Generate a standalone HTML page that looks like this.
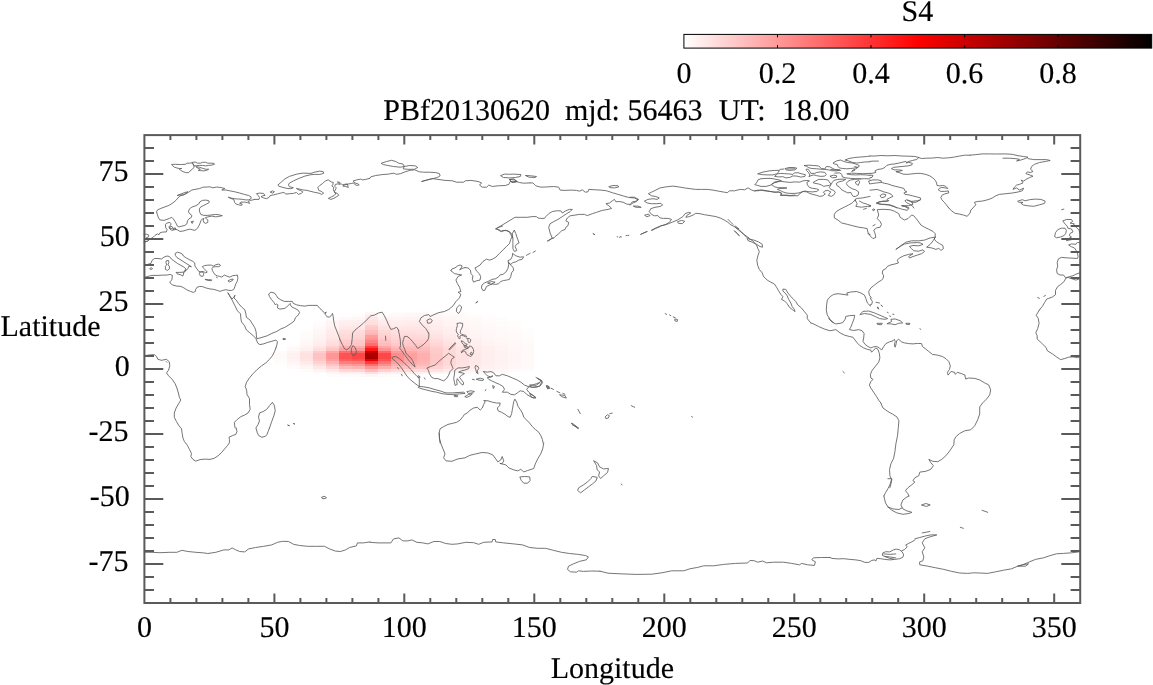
<!DOCTYPE html><html><head><meta charset="utf-8"><title>S4 map</title><style>
html,body{margin:0;padding:0;background:#fff;}body{width:1153px;height:685px;overflow:hidden;position:relative;font-family:"Liberation Serif",serif;}
svg{position:absolute;left:0;top:0;will-change:transform;}text{font-family:"Liberation Serif",serif;font-size:30px;fill:#000;stroke:#000;stroke-width:0.15px;text-rendering:geometricPrecision;}
</style></head><body>
<svg width="1153" height="685" viewBox="0 0 1153 685">
<defs><linearGradient id="cb" x1="0" y1="0" x2="1" y2="0"><stop offset="0" stop-color="#fff"/><stop offset="0.5" stop-color="#f00"/><stop offset="1" stop-color="#000"/></linearGradient></defs>
<g shape-rendering="crispEdges">
<rect x="365" y="374" width="13" height="3" fill="#fff5f5"/>
<rect x="365" y="372" width="13" height="2" fill="#ffe0e0"/>
<rect x="365" y="369" width="13" height="3" fill="#ffbebe"/>
<rect x="365" y="366" width="13" height="3" fill="#ff9696"/>
<rect x="365" y="364" width="13" height="2" fill="#ff6e6e"/>
<rect x="365" y="361" width="13" height="3" fill="#ff3d3d"/>
<rect x="365" y="359" width="13" height="2" fill="#eb0000"/>
<rect x="365" y="356" width="13" height="3" fill="#aa0000"/>
<rect x="365" y="353" width="13" height="3" fill="#aa0000"/>
<rect x="365" y="351" width="13" height="2" fill="#c70000"/>
<rect x="365" y="348" width="13" height="3" fill="#ff1414"/>
<rect x="365" y="346" width="13" height="2" fill="#ff3d3d"/>
<rect x="365" y="343" width="13" height="3" fill="#ff6e6e"/>
<rect x="365" y="340" width="13" height="3" fill="#ff8282"/>
<rect x="365" y="338" width="13" height="2" fill="#ff9494"/>
<rect x="365" y="335" width="13" height="3" fill="#ff9c9c"/>
<rect x="365" y="333" width="13" height="2" fill="#ffb5b5"/>
<rect x="365" y="330" width="13" height="3" fill="#ffbcbc"/>
<rect x="365" y="327" width="13" height="3" fill="#ffc9c9"/>
<rect x="365" y="325" width="13" height="2" fill="#ffcfcf"/>
<rect x="365" y="322" width="13" height="3" fill="#ffdede"/>
<rect x="365" y="320" width="13" height="2" fill="#ffe1e1"/>
<rect x="365" y="317" width="13" height="3" fill="#ffe6e6"/>
<rect x="365" y="314" width="13" height="3" fill="#fff0f0"/>
<rect x="365" y="312" width="13" height="2" fill="#fff7f7"/>
<rect x="274" y="361" width="13" height="3" fill="#fffcfc"/>
<rect x="274" y="359" width="13" height="2" fill="#fffbfb"/>
<rect x="274" y="356" width="13" height="3" fill="#fffafa"/>
<rect x="274" y="353" width="13" height="3" fill="#fffafa"/>
<rect x="274" y="351" width="13" height="2" fill="#fffbfb"/>
<rect x="287" y="366" width="13" height="3" fill="#fffbfb"/>
<rect x="287" y="364" width="13" height="2" fill="#fff8f8"/>
<rect x="287" y="361" width="13" height="3" fill="#fff5f5"/>
<rect x="287" y="359" width="13" height="2" fill="#fff2f2"/>
<rect x="287" y="356" width="13" height="3" fill="#fff1f1"/>
<rect x="287" y="353" width="13" height="3" fill="#fff1f1"/>
<rect x="287" y="351" width="13" height="2" fill="#fff4f4"/>
<rect x="287" y="348" width="13" height="3" fill="#fff8f8"/>
<rect x="287" y="346" width="13" height="2" fill="#fffafa"/>
<rect x="287" y="343" width="13" height="3" fill="#fffdfd"/>
<rect x="300" y="369" width="13" height="3" fill="#fffbfb"/>
<rect x="300" y="366" width="13" height="3" fill="#fff5f5"/>
<rect x="300" y="364" width="13" height="2" fill="#ffefef"/>
<rect x="300" y="361" width="13" height="3" fill="#ffeaea"/>
<rect x="300" y="359" width="13" height="2" fill="#ffe4e4"/>
<rect x="300" y="356" width="13" height="3" fill="#ffe1e1"/>
<rect x="300" y="353" width="13" height="3" fill="#ffe1e1"/>
<rect x="300" y="351" width="13" height="2" fill="#ffe6e6"/>
<rect x="300" y="348" width="13" height="3" fill="#fff0f0"/>
<rect x="300" y="346" width="13" height="2" fill="#fff3f3"/>
<rect x="300" y="343" width="13" height="3" fill="#fff7f7"/>
<rect x="300" y="340" width="13" height="3" fill="#fff8f8"/>
<rect x="300" y="338" width="13" height="2" fill="#fffafa"/>
<rect x="300" y="335" width="13" height="3" fill="#fffbfb"/>
<rect x="300" y="333" width="13" height="2" fill="#fffbfb"/>
<rect x="300" y="330" width="13" height="3" fill="#fffcfc"/>
<rect x="313" y="372" width="13" height="2" fill="#fffcfc"/>
<rect x="313" y="369" width="13" height="3" fill="#fff4f4"/>
<rect x="313" y="366" width="13" height="3" fill="#ffe8e8"/>
<rect x="313" y="364" width="13" height="2" fill="#ffdddd"/>
<rect x="313" y="361" width="13" height="3" fill="#ffd2d2"/>
<rect x="313" y="359" width="13" height="2" fill="#ffc7c7"/>
<rect x="313" y="356" width="13" height="3" fill="#ffc1c1"/>
<rect x="313" y="353" width="13" height="3" fill="#ffc1c1"/>
<rect x="313" y="351" width="13" height="2" fill="#ffcccc"/>
<rect x="313" y="348" width="13" height="3" fill="#ffdede"/>
<rect x="313" y="346" width="13" height="2" fill="#ffe5e5"/>
<rect x="313" y="343" width="13" height="3" fill="#ffeded"/>
<rect x="313" y="340" width="13" height="3" fill="#ffefef"/>
<rect x="313" y="338" width="13" height="2" fill="#fff2f2"/>
<rect x="313" y="335" width="13" height="3" fill="#fff4f4"/>
<rect x="313" y="333" width="13" height="2" fill="#fff5f5"/>
<rect x="313" y="330" width="13" height="3" fill="#fff6f6"/>
<rect x="313" y="327" width="13" height="3" fill="#fff9f9"/>
<rect x="313" y="325" width="13" height="2" fill="#fffbfb"/>
<rect x="313" y="322" width="13" height="3" fill="#fffcfc"/>
<rect x="313" y="320" width="13" height="2" fill="#fffdfd"/>
<rect x="326" y="374" width="13" height="3" fill="#fffbfb"/>
<rect x="326" y="372" width="13" height="2" fill="#fff5f5"/>
<rect x="326" y="369" width="13" height="3" fill="#ffe8e8"/>
<rect x="326" y="366" width="13" height="3" fill="#ffd4d4"/>
<rect x="326" y="364" width="13" height="2" fill="#ffc3c3"/>
<rect x="326" y="361" width="13" height="3" fill="#ffb2b2"/>
<rect x="326" y="359" width="13" height="2" fill="#ff9f9f"/>
<rect x="326" y="356" width="13" height="3" fill="#ff9696"/>
<rect x="326" y="353" width="13" height="3" fill="#ff9696"/>
<rect x="326" y="351" width="13" height="2" fill="#ffa7a7"/>
<rect x="326" y="348" width="13" height="3" fill="#ffc5c5"/>
<rect x="326" y="346" width="13" height="2" fill="#ffd0d0"/>
<rect x="326" y="343" width="13" height="3" fill="#ffdddd"/>
<rect x="326" y="340" width="13" height="3" fill="#ffe0e0"/>
<rect x="326" y="338" width="13" height="2" fill="#ffe5e5"/>
<rect x="326" y="335" width="13" height="3" fill="#ffe8e8"/>
<rect x="326" y="333" width="13" height="2" fill="#ffe9e9"/>
<rect x="326" y="330" width="13" height="3" fill="#ffebeb"/>
<rect x="326" y="327" width="13" height="3" fill="#fff0f0"/>
<rect x="326" y="325" width="13" height="2" fill="#fff3f3"/>
<rect x="326" y="322" width="13" height="3" fill="#fff4f4"/>
<rect x="326" y="320" width="13" height="2" fill="#fff6f6"/>
<rect x="326" y="317" width="13" height="3" fill="#fffbfb"/>
<rect x="339" y="374" width="13" height="3" fill="#fff9f9"/>
<rect x="339" y="372" width="13" height="2" fill="#ffefef"/>
<rect x="339" y="369" width="13" height="3" fill="#ffd8d8"/>
<rect x="339" y="366" width="13" height="3" fill="#ffb8b8"/>
<rect x="339" y="364" width="13" height="2" fill="#ff9c9c"/>
<rect x="339" y="361" width="13" height="3" fill="#ff7f7f"/>
<rect x="339" y="359" width="13" height="2" fill="#ff6060"/>
<rect x="339" y="356" width="13" height="3" fill="#ff5252"/>
<rect x="339" y="353" width="13" height="3" fill="#ff5252"/>
<rect x="339" y="351" width="13" height="2" fill="#ff6e6e"/>
<rect x="339" y="348" width="13" height="3" fill="#ff9f9f"/>
<rect x="339" y="346" width="13" height="2" fill="#ffb2b2"/>
<rect x="339" y="343" width="13" height="3" fill="#ffc8c8"/>
<rect x="339" y="340" width="13" height="3" fill="#ffcccc"/>
<rect x="339" y="338" width="13" height="2" fill="#ffd5d5"/>
<rect x="339" y="335" width="13" height="3" fill="#ffd8d8"/>
<rect x="339" y="333" width="13" height="2" fill="#ffdbdb"/>
<rect x="339" y="330" width="13" height="3" fill="#ffdede"/>
<rect x="339" y="327" width="13" height="3" fill="#ffe7e7"/>
<rect x="339" y="325" width="13" height="2" fill="#ffebeb"/>
<rect x="339" y="322" width="13" height="3" fill="#ffeeee"/>
<rect x="339" y="320" width="13" height="2" fill="#fff1f1"/>
<rect x="339" y="317" width="13" height="3" fill="#fff8f8"/>
<rect x="339" y="314" width="13" height="3" fill="#fffdfd"/>
<rect x="352" y="374" width="13" height="3" fill="#fff9f9"/>
<rect x="352" y="372" width="13" height="2" fill="#ffeeee"/>
<rect x="352" y="369" width="13" height="3" fill="#ffd6d6"/>
<rect x="352" y="366" width="13" height="3" fill="#ffb4b4"/>
<rect x="352" y="364" width="13" height="2" fill="#ff9696"/>
<rect x="352" y="361" width="13" height="3" fill="#ff7878"/>
<rect x="352" y="359" width="13" height="2" fill="#ff5757"/>
<rect x="352" y="356" width="13" height="3" fill="#ff4747"/>
<rect x="352" y="353" width="13" height="3" fill="#ff4747"/>
<rect x="352" y="351" width="13" height="2" fill="#ff6666"/>
<rect x="352" y="348" width="13" height="3" fill="#ff9999"/>
<rect x="352" y="346" width="13" height="2" fill="#ffadad"/>
<rect x="352" y="343" width="13" height="3" fill="#ffc4c4"/>
<rect x="352" y="340" width="13" height="3" fill="#ffc9c9"/>
<rect x="352" y="338" width="13" height="2" fill="#ffd2d2"/>
<rect x="352" y="335" width="13" height="3" fill="#ffd6d6"/>
<rect x="352" y="333" width="13" height="2" fill="#ffd9d9"/>
<rect x="352" y="330" width="13" height="3" fill="#ffdcdc"/>
<rect x="352" y="327" width="13" height="3" fill="#ffe6e6"/>
<rect x="352" y="325" width="13" height="2" fill="#ffeaea"/>
<rect x="352" y="322" width="13" height="3" fill="#ffeded"/>
<rect x="352" y="320" width="13" height="2" fill="#fff0f0"/>
<rect x="352" y="317" width="13" height="3" fill="#fff7f7"/>
<rect x="352" y="314" width="13" height="3" fill="#fffcfc"/>
<rect x="378" y="374" width="13" height="3" fill="#fff9f9"/>
<rect x="378" y="372" width="13" height="2" fill="#ffecec"/>
<rect x="378" y="369" width="13" height="3" fill="#ffd1d1"/>
<rect x="378" y="366" width="13" height="3" fill="#ffadad"/>
<rect x="378" y="364" width="13" height="2" fill="#ff8f8f"/>
<rect x="378" y="361" width="13" height="3" fill="#ff7373"/>
<rect x="378" y="359" width="13" height="2" fill="#ff5555"/>
<rect x="378" y="356" width="13" height="3" fill="#ff4747"/>
<rect x="378" y="353" width="13" height="3" fill="#ff4747"/>
<rect x="378" y="351" width="13" height="2" fill="#ff6363"/>
<rect x="378" y="348" width="13" height="3" fill="#ff9292"/>
<rect x="378" y="346" width="13" height="2" fill="#ffa6a6"/>
<rect x="378" y="343" width="13" height="3" fill="#ffbcbc"/>
<rect x="378" y="340" width="13" height="3" fill="#ffc2c2"/>
<rect x="378" y="338" width="13" height="2" fill="#ffcccc"/>
<rect x="378" y="335" width="13" height="3" fill="#ffd1d1"/>
<rect x="378" y="333" width="13" height="2" fill="#ffd4d4"/>
<rect x="378" y="330" width="13" height="3" fill="#ffd8d8"/>
<rect x="378" y="327" width="13" height="3" fill="#ffe1e1"/>
<rect x="378" y="325" width="13" height="2" fill="#ffe6e6"/>
<rect x="378" y="322" width="13" height="3" fill="#ffe9e9"/>
<rect x="378" y="320" width="13" height="2" fill="#ffeded"/>
<rect x="378" y="317" width="13" height="3" fill="#fff4f4"/>
<rect x="378" y="314" width="13" height="3" fill="#fffafa"/>
<rect x="391" y="374" width="13" height="3" fill="#fffbfb"/>
<rect x="391" y="372" width="13" height="2" fill="#fff0f0"/>
<rect x="391" y="369" width="13" height="3" fill="#ffdada"/>
<rect x="391" y="366" width="13" height="3" fill="#ffc0c0"/>
<rect x="391" y="364" width="13" height="2" fill="#ffaeae"/>
<rect x="391" y="361" width="13" height="3" fill="#ffa0a0"/>
<rect x="391" y="359" width="13" height="2" fill="#ff9292"/>
<rect x="391" y="356" width="13" height="3" fill="#ff8c8c"/>
<rect x="391" y="353" width="13" height="3" fill="#ff8c8c"/>
<rect x="391" y="351" width="13" height="2" fill="#ff9a9a"/>
<rect x="391" y="348" width="13" height="3" fill="#ffb1b1"/>
<rect x="391" y="346" width="13" height="2" fill="#ffbcbc"/>
<rect x="391" y="343" width="13" height="3" fill="#ffc9c9"/>
<rect x="391" y="340" width="13" height="3" fill="#ffcece"/>
<rect x="391" y="338" width="13" height="2" fill="#ffd5d5"/>
<rect x="391" y="335" width="13" height="3" fill="#ffd9d9"/>
<rect x="391" y="333" width="13" height="2" fill="#ffdddd"/>
<rect x="391" y="330" width="13" height="3" fill="#ffe0e0"/>
<rect x="391" y="327" width="13" height="3" fill="#ffe6e6"/>
<rect x="391" y="325" width="13" height="2" fill="#ffe9e9"/>
<rect x="391" y="322" width="13" height="3" fill="#ffecec"/>
<rect x="391" y="320" width="13" height="2" fill="#ffefef"/>
<rect x="391" y="317" width="13" height="3" fill="#fff4f4"/>
<rect x="391" y="314" width="13" height="3" fill="#fff8f8"/>
<rect x="391" y="312" width="13" height="2" fill="#fffcfc"/>
<rect x="404" y="374" width="13" height="3" fill="#fffcfc"/>
<rect x="404" y="372" width="13" height="2" fill="#fff0f0"/>
<rect x="404" y="369" width="13" height="3" fill="#ffdada"/>
<rect x="404" y="366" width="13" height="3" fill="#ffc2c2"/>
<rect x="404" y="364" width="13" height="2" fill="#ffb3b3"/>
<rect x="404" y="361" width="13" height="3" fill="#ffaaaa"/>
<rect x="404" y="359" width="13" height="2" fill="#ffa3a3"/>
<rect x="404" y="356" width="13" height="3" fill="#ffa0a0"/>
<rect x="404" y="353" width="13" height="3" fill="#ffa0a0"/>
<rect x="404" y="351" width="13" height="2" fill="#ffa8a8"/>
<rect x="404" y="348" width="13" height="3" fill="#ffb6b6"/>
<rect x="404" y="346" width="13" height="2" fill="#ffbebe"/>
<rect x="404" y="343" width="13" height="3" fill="#ffc8c8"/>
<rect x="404" y="340" width="13" height="3" fill="#ffcdcd"/>
<rect x="404" y="338" width="13" height="2" fill="#ffd4d4"/>
<rect x="404" y="335" width="13" height="3" fill="#ffd8d8"/>
<rect x="404" y="333" width="13" height="2" fill="#ffdcdc"/>
<rect x="404" y="330" width="13" height="3" fill="#ffe0e0"/>
<rect x="404" y="327" width="13" height="3" fill="#ffe5e5"/>
<rect x="404" y="325" width="13" height="2" fill="#ffe8e8"/>
<rect x="404" y="322" width="13" height="3" fill="#ffebeb"/>
<rect x="404" y="320" width="13" height="2" fill="#ffeeee"/>
<rect x="404" y="317" width="13" height="3" fill="#fff2f2"/>
<rect x="404" y="314" width="13" height="3" fill="#fff7f7"/>
<rect x="404" y="312" width="13" height="2" fill="#fffafa"/>
<rect x="417" y="374" width="13" height="3" fill="#fffdfd"/>
<rect x="417" y="372" width="13" height="2" fill="#fff1f1"/>
<rect x="417" y="369" width="13" height="3" fill="#ffdbdb"/>
<rect x="417" y="366" width="13" height="3" fill="#ffc5c5"/>
<rect x="417" y="364" width="13" height="2" fill="#ffb9b9"/>
<rect x="417" y="361" width="13" height="3" fill="#ffb3b3"/>
<rect x="417" y="359" width="13" height="2" fill="#ffb0b0"/>
<rect x="417" y="356" width="13" height="3" fill="#ffafaf"/>
<rect x="417" y="353" width="13" height="3" fill="#ffafaf"/>
<rect x="417" y="351" width="13" height="2" fill="#ffb4b4"/>
<rect x="417" y="348" width="13" height="3" fill="#ffbbbb"/>
<rect x="417" y="346" width="13" height="2" fill="#ffc1c1"/>
<rect x="417" y="343" width="13" height="3" fill="#ffc9c9"/>
<rect x="417" y="340" width="13" height="3" fill="#ffcfcf"/>
<rect x="417" y="338" width="13" height="2" fill="#ffd5d5"/>
<rect x="417" y="335" width="13" height="3" fill="#ffd9d9"/>
<rect x="417" y="333" width="13" height="2" fill="#ffdede"/>
<rect x="417" y="330" width="13" height="3" fill="#ffe1e1"/>
<rect x="417" y="327" width="13" height="3" fill="#ffe5e5"/>
<rect x="417" y="325" width="13" height="2" fill="#ffe8e8"/>
<rect x="417" y="322" width="13" height="3" fill="#ffebeb"/>
<rect x="417" y="320" width="13" height="2" fill="#ffeeee"/>
<rect x="417" y="317" width="13" height="3" fill="#fff2f2"/>
<rect x="417" y="314" width="13" height="3" fill="#fff6f6"/>
<rect x="417" y="312" width="13" height="2" fill="#fffafa"/>
<rect x="430" y="372" width="13" height="2" fill="#fff4f4"/>
<rect x="430" y="369" width="13" height="3" fill="#ffe3e3"/>
<rect x="430" y="366" width="13" height="3" fill="#ffd3d3"/>
<rect x="430" y="364" width="13" height="2" fill="#ffcbcb"/>
<rect x="430" y="361" width="13" height="3" fill="#ffc8c8"/>
<rect x="430" y="359" width="13" height="2" fill="#ffc8c8"/>
<rect x="430" y="356" width="13" height="3" fill="#ffc8c8"/>
<rect x="430" y="353" width="13" height="3" fill="#ffc8c8"/>
<rect x="430" y="351" width="13" height="2" fill="#ffcaca"/>
<rect x="430" y="348" width="13" height="3" fill="#ffcccc"/>
<rect x="430" y="346" width="13" height="2" fill="#ffd0d0"/>
<rect x="430" y="343" width="13" height="3" fill="#ffd5d5"/>
<rect x="430" y="340" width="13" height="3" fill="#ffdada"/>
<rect x="430" y="338" width="13" height="2" fill="#ffdede"/>
<rect x="430" y="335" width="13" height="3" fill="#ffe2e2"/>
<rect x="430" y="333" width="13" height="2" fill="#ffe5e5"/>
<rect x="430" y="330" width="13" height="3" fill="#ffe8e8"/>
<rect x="430" y="327" width="13" height="3" fill="#ffebeb"/>
<rect x="430" y="325" width="13" height="2" fill="#ffeded"/>
<rect x="430" y="322" width="13" height="3" fill="#ffefef"/>
<rect x="430" y="320" width="13" height="2" fill="#fff1f1"/>
<rect x="430" y="317" width="13" height="3" fill="#fff4f4"/>
<rect x="430" y="314" width="13" height="3" fill="#fff7f7"/>
<rect x="430" y="312" width="13" height="2" fill="#fffbfb"/>
<rect x="443" y="372" width="13" height="2" fill="#fff7f7"/>
<rect x="443" y="369" width="13" height="3" fill="#ffebeb"/>
<rect x="443" y="366" width="13" height="3" fill="#ffdfdf"/>
<rect x="443" y="364" width="13" height="2" fill="#ffd9d9"/>
<rect x="443" y="361" width="13" height="3" fill="#ffd7d7"/>
<rect x="443" y="359" width="13" height="2" fill="#ffd7d7"/>
<rect x="443" y="356" width="13" height="3" fill="#ffd7d7"/>
<rect x="443" y="353" width="13" height="3" fill="#ffd7d7"/>
<rect x="443" y="351" width="13" height="2" fill="#ffd8d8"/>
<rect x="443" y="348" width="13" height="3" fill="#ffdada"/>
<rect x="443" y="346" width="13" height="2" fill="#ffdddd"/>
<rect x="443" y="343" width="13" height="3" fill="#ffe1e1"/>
<rect x="443" y="340" width="13" height="3" fill="#ffe4e4"/>
<rect x="443" y="338" width="13" height="2" fill="#ffe7e7"/>
<rect x="443" y="335" width="13" height="3" fill="#ffeaea"/>
<rect x="443" y="333" width="13" height="2" fill="#ffecec"/>
<rect x="443" y="330" width="13" height="3" fill="#ffeeee"/>
<rect x="443" y="327" width="13" height="3" fill="#fff0f0"/>
<rect x="443" y="325" width="13" height="2" fill="#fff2f2"/>
<rect x="443" y="322" width="13" height="3" fill="#fff3f3"/>
<rect x="443" y="320" width="13" height="2" fill="#fff5f5"/>
<rect x="443" y="317" width="13" height="3" fill="#fff7f7"/>
<rect x="443" y="314" width="13" height="3" fill="#fff9f9"/>
<rect x="443" y="312" width="13" height="2" fill="#fffcfc"/>
<rect x="456" y="372" width="13" height="2" fill="#fff9f9"/>
<rect x="456" y="369" width="13" height="3" fill="#fff0f0"/>
<rect x="456" y="366" width="13" height="3" fill="#ffe7e7"/>
<rect x="456" y="364" width="13" height="2" fill="#ffe2e2"/>
<rect x="456" y="361" width="13" height="3" fill="#ffe1e1"/>
<rect x="456" y="359" width="13" height="2" fill="#ffe1e1"/>
<rect x="456" y="356" width="13" height="3" fill="#ffe1e1"/>
<rect x="456" y="353" width="13" height="3" fill="#ffe1e1"/>
<rect x="456" y="351" width="13" height="2" fill="#ffe2e2"/>
<rect x="456" y="348" width="13" height="3" fill="#ffe3e3"/>
<rect x="456" y="346" width="13" height="2" fill="#ffe5e5"/>
<rect x="456" y="343" width="13" height="3" fill="#ffe8e8"/>
<rect x="456" y="340" width="13" height="3" fill="#ffebeb"/>
<rect x="456" y="338" width="13" height="2" fill="#ffeded"/>
<rect x="456" y="335" width="13" height="3" fill="#ffefef"/>
<rect x="456" y="333" width="13" height="2" fill="#fff1f1"/>
<rect x="456" y="330" width="13" height="3" fill="#fff2f2"/>
<rect x="456" y="327" width="13" height="3" fill="#fff4f4"/>
<rect x="456" y="325" width="13" height="2" fill="#fff5f5"/>
<rect x="456" y="322" width="13" height="3" fill="#fff6f6"/>
<rect x="456" y="320" width="13" height="2" fill="#fff7f7"/>
<rect x="456" y="317" width="13" height="3" fill="#fff9f9"/>
<rect x="456" y="314" width="13" height="3" fill="#fffbfb"/>
<rect x="456" y="312" width="13" height="2" fill="#fffdfd"/>
<rect x="469" y="372" width="13" height="2" fill="#fffafa"/>
<rect x="469" y="369" width="13" height="3" fill="#fff4f4"/>
<rect x="469" y="366" width="13" height="3" fill="#ffeded"/>
<rect x="469" y="364" width="13" height="2" fill="#ffe9e9"/>
<rect x="469" y="361" width="13" height="3" fill="#ffe8e8"/>
<rect x="469" y="359" width="13" height="2" fill="#ffe8e8"/>
<rect x="469" y="356" width="13" height="3" fill="#ffe8e8"/>
<rect x="469" y="353" width="13" height="3" fill="#ffe8e8"/>
<rect x="469" y="351" width="13" height="2" fill="#ffe9e9"/>
<rect x="469" y="348" width="13" height="3" fill="#ffeaea"/>
<rect x="469" y="346" width="13" height="2" fill="#ffebeb"/>
<rect x="469" y="343" width="13" height="3" fill="#ffeeee"/>
<rect x="469" y="340" width="13" height="3" fill="#ffefef"/>
<rect x="469" y="338" width="13" height="2" fill="#fff1f1"/>
<rect x="469" y="335" width="13" height="3" fill="#fff3f3"/>
<rect x="469" y="333" width="13" height="2" fill="#fff4f4"/>
<rect x="469" y="330" width="13" height="3" fill="#fff5f5"/>
<rect x="469" y="327" width="13" height="3" fill="#fff7f7"/>
<rect x="469" y="325" width="13" height="2" fill="#fff7f7"/>
<rect x="469" y="322" width="13" height="3" fill="#fff8f8"/>
<rect x="469" y="320" width="13" height="2" fill="#fff9f9"/>
<rect x="469" y="317" width="13" height="3" fill="#fffafa"/>
<rect x="469" y="314" width="13" height="3" fill="#fffcfc"/>
<rect x="482" y="372" width="13" height="2" fill="#fffcfc"/>
<rect x="482" y="369" width="13" height="3" fill="#fff6f6"/>
<rect x="482" y="366" width="13" height="3" fill="#fff1f1"/>
<rect x="482" y="364" width="13" height="2" fill="#ffefef"/>
<rect x="482" y="361" width="13" height="3" fill="#ffeeee"/>
<rect x="482" y="359" width="13" height="2" fill="#ffeeee"/>
<rect x="482" y="356" width="13" height="3" fill="#ffeeee"/>
<rect x="482" y="353" width="13" height="3" fill="#ffeeee"/>
<rect x="482" y="351" width="13" height="2" fill="#ffeeee"/>
<rect x="482" y="348" width="13" height="3" fill="#ffefef"/>
<rect x="482" y="346" width="13" height="2" fill="#fff0f0"/>
<rect x="482" y="343" width="13" height="3" fill="#fff2f2"/>
<rect x="482" y="340" width="13" height="3" fill="#fff3f3"/>
<rect x="482" y="338" width="13" height="2" fill="#fff5f5"/>
<rect x="482" y="335" width="13" height="3" fill="#fff6f6"/>
<rect x="482" y="333" width="13" height="2" fill="#fff7f7"/>
<rect x="482" y="330" width="13" height="3" fill="#fff8f8"/>
<rect x="482" y="327" width="13" height="3" fill="#fff9f9"/>
<rect x="482" y="325" width="13" height="2" fill="#fff9f9"/>
<rect x="482" y="322" width="13" height="3" fill="#fffafa"/>
<rect x="482" y="320" width="13" height="2" fill="#fffbfb"/>
<rect x="482" y="317" width="13" height="3" fill="#fffcfc"/>
<rect x="482" y="314" width="13" height="3" fill="#fffdfd"/>
<rect x="495" y="372" width="13" height="2" fill="#fffcfc"/>
<rect x="495" y="369" width="13" height="3" fill="#fff8f8"/>
<rect x="495" y="366" width="13" height="3" fill="#fff4f4"/>
<rect x="495" y="364" width="13" height="2" fill="#fff2f2"/>
<rect x="495" y="361" width="13" height="3" fill="#fff2f2"/>
<rect x="495" y="359" width="13" height="2" fill="#fff2f2"/>
<rect x="495" y="356" width="13" height="3" fill="#fff2f2"/>
<rect x="495" y="353" width="13" height="3" fill="#fff2f2"/>
<rect x="495" y="351" width="13" height="2" fill="#fff2f2"/>
<rect x="495" y="348" width="13" height="3" fill="#fff3f3"/>
<rect x="495" y="346" width="13" height="2" fill="#fff4f4"/>
<rect x="495" y="343" width="13" height="3" fill="#fff5f5"/>
<rect x="495" y="340" width="13" height="3" fill="#fff6f6"/>
<rect x="495" y="338" width="13" height="2" fill="#fff7f7"/>
<rect x="495" y="335" width="13" height="3" fill="#fff8f8"/>
<rect x="495" y="333" width="13" height="2" fill="#fff9f9"/>
<rect x="495" y="330" width="13" height="3" fill="#fff9f9"/>
<rect x="495" y="327" width="13" height="3" fill="#fffafa"/>
<rect x="495" y="325" width="13" height="2" fill="#fffbfb"/>
<rect x="495" y="322" width="13" height="3" fill="#fffbfb"/>
<rect x="495" y="320" width="13" height="2" fill="#fffcfc"/>
<rect x="495" y="317" width="13" height="3" fill="#fffcfc"/>
<rect x="508" y="369" width="13" height="3" fill="#fffafa"/>
<rect x="508" y="366" width="13" height="3" fill="#fff7f7"/>
<rect x="508" y="364" width="13" height="2" fill="#fff6f6"/>
<rect x="508" y="361" width="13" height="3" fill="#fff5f5"/>
<rect x="508" y="359" width="13" height="2" fill="#fff5f5"/>
<rect x="508" y="356" width="13" height="3" fill="#fff5f5"/>
<rect x="508" y="353" width="13" height="3" fill="#fff5f5"/>
<rect x="508" y="351" width="13" height="2" fill="#fff6f6"/>
<rect x="508" y="348" width="13" height="3" fill="#fff6f6"/>
<rect x="508" y="346" width="13" height="2" fill="#fff7f7"/>
<rect x="508" y="343" width="13" height="3" fill="#fff8f8"/>
<rect x="508" y="340" width="13" height="3" fill="#fff8f8"/>
<rect x="508" y="338" width="13" height="2" fill="#fff9f9"/>
<rect x="508" y="335" width="13" height="3" fill="#fffafa"/>
<rect x="508" y="333" width="13" height="2" fill="#fffafa"/>
<rect x="508" y="330" width="13" height="3" fill="#fffbfb"/>
<rect x="508" y="327" width="13" height="3" fill="#fffbfb"/>
<rect x="508" y="325" width="13" height="2" fill="#fffcfc"/>
<rect x="508" y="322" width="13" height="3" fill="#fffcfc"/>
<rect x="508" y="320" width="13" height="2" fill="#fffdfd"/>
<rect x="521" y="369" width="13" height="3" fill="#fffcfc"/>
<rect x="521" y="366" width="13" height="3" fill="#fffafa"/>
<rect x="521" y="364" width="13" height="2" fill="#fff9f9"/>
<rect x="521" y="361" width="13" height="3" fill="#fff9f9"/>
<rect x="521" y="359" width="13" height="2" fill="#fff9f9"/>
<rect x="521" y="356" width="13" height="3" fill="#fff9f9"/>
<rect x="521" y="353" width="13" height="3" fill="#fff9f9"/>
<rect x="521" y="351" width="13" height="2" fill="#fff9f9"/>
<rect x="521" y="348" width="13" height="3" fill="#fff9f9"/>
<rect x="521" y="346" width="13" height="2" fill="#fffafa"/>
<rect x="521" y="343" width="13" height="3" fill="#fffafa"/>
<rect x="521" y="340" width="13" height="3" fill="#fffbfb"/>
<rect x="521" y="338" width="13" height="2" fill="#fffbfb"/>
<rect x="521" y="335" width="13" height="3" fill="#fffcfc"/>
<rect x="521" y="333" width="13" height="2" fill="#fffcfc"/>
<rect x="521" y="330" width="13" height="3" fill="#fffcfc"/>
<rect x="521" y="327" width="13" height="3" fill="#fffdfd"/>
</g>
<path d="M144.0 242.3L147.5 241.0L150.5 238.8L153.0 237.4L155.0 235.4L157.5 233.9L159.0 234.7L159.9 232.9L162.4 232.1L166.4 231.9L167.1 229.4L165.7 227.9L165.4 224.4L166.9 223.1L169.9 222.4L171.1 223.9L170.4 225.4L168.9 226.9L169.9 228.9L171.9 230.4L173.4 229.9L174.4 228.9L177.4 229.9L179.9 231.4L182.9 231.1L186.9 229.9L189.9 229.1L192.9 229.9L194.9 230.4L197.4 228.4L198.8 225.9L199.8 223.9L200.8 220.9L202.3 218.9L203.8 218.4L203.3 220.4L203.8 222.4L205.8 223.4L207.8 222.4L207.8 219.9L206.3 218.9L205.3 217.7L207.8 216.9L211.8 216.1L215.8 216.9L218.8 216.4L222.3 215.7L219.3 214.9L215.8 214.4L211.8 214.9L207.8 215.4L203.8 215.4L200.8 214.4L199.6 211.9L199.3 208.9L200.8 206.9L203.8 205.4L206.8 203.9L209.3 202.4L208.8 200.7L205.8 200.1L202.3 200.4L199.8 201.9L198.8 203.9L195.9 205.7L191.9 207.1L189.4 208.9L188.4 211.9L189.9 213.9L191.9 215.4L191.4 217.4L188.9 218.9L187.4 220.9L186.9 223.9L184.9 225.4L181.9 226.1L178.9 226.9L177.4 226.1L176.4 223.9L174.9 221.4L173.4 218.9L171.9 217.4L169.4 218.4L166.9 219.4L163.9 220.4L159.9 219.9L158.5 217.9L157.5 214.9L156.5 211.9L157.5 209.9L160.9 208.4L164.9 206.9L168.9 205.4L172.9 202.9L175.9 200.4L177.9 198.0L179.9 196.0L182.9 195.0L185.4 194.0L188.9 192.0L191.9 190.0L195.9 189.2L199.8 188.5L202.8 187.2L206.8 187.0L209.8 186.8L212.8 187.8L216.8 187.0L220.8 187.5L224.8 188.5L221.8 190.0L225.8 190.0L229.8 190.8L234.8 191.8L239.7 193.0L244.7 194.5L248.7 195.5L251.2 197.0L250.9 198.8L248.7 199.9L245.7 199.9L242.7 199.4L238.7 199.0L234.8 198.8L231.8 198.2L228.3 197.2L230.8 198.5L233.8 199.4L234.6 202.4L235.8 203.9L238.7 204.9L241.7 205.4L242.2 203.9L239.7 203.4L240.7 202.1L244.7 202.1L247.7 202.7L249.7 203.4L248.2 201.4L250.7 200.4L254.7 199.4M177.4 195.5L180.9 194.0L184.9 192.5L187.9 191.8L183.9 194.8L177.9 195.2M191.4 221.7L193.4 221.1L192.4 223.1ZM169.9 226.9L171.9 226.4L172.9 227.9L170.9 228.9ZM173.4 228.4L175.4 227.9L175.9 229.4L173.9 229.9ZM144.0 234.2L146.5 234.2L148.8 235.1L148.5 236.9L146.2 237.8L144.2 239.8M255.0 199.4L259.0 199.4L259.5 197.4L258.0 195.4L256.5 193.7L259.5 193.1L263.5 193.4L265.0 195.4L262.5 195.9L261.0 196.7L263.5 197.9L266.5 198.7L269.0 197.4L270.0 195.7L273.5 194.9L277.4 193.9L281.4 192.9L283.9 192.4L285.9 194.1L289.4 193.7L293.4 193.4L296.4 192.4L298.4 194.4L301.4 193.4L302.9 191.9L300.4 190.4L297.4 189.4L296.4 188.4L299.4 189.1L302.9 189.9L306.9 190.4L310.9 191.4L314.8 192.4L318.8 193.1L321.8 194.4L323.6 193.1L321.3 191.4L318.8 190.4L317.8 187.4L319.8 185.4L322.8 183.4L325.3 180.9L328.3 179.9L331.3 181.9L333.3 182.4L332.8 184.9L331.8 185.9L333.8 187.4L333.3 189.9L334.8 192.4L337.3 193.4L338.8 195.4L336.3 196.9L333.8 198.4L330.8 199.4L328.3 198.4L331.3 196.9L334.3 195.4L335.8 193.9L334.3 191.9L335.3 189.9L336.3 187.9L334.8 186.4L335.3 184.4L337.8 183.9L340.3 184.4L337.3 181.9L339.8 182.4L342.3 184.9L344.3 184.4L347.3 183.9L348.3 187.4L345.3 186.4L342.8 186.1L344.8 184.9L348.8 183.9L351.7 183.4L353.7 182.9L354.7 184.4L356.7 185.4L359.2 184.9L357.7 183.7L354.7 182.9L353.2 180.9L356.7 179.9L360.7 179.1L362.7 179.9L365.7 179.4L369.7 178.4M278.1 184.9L280.9 182.4L284.9 178.9L289.4 176.4L296.9 174.1L302.9 173.1L310.9 173.4L314.8 172.1L319.8 171.1L323.3 171.7L323.6 173.4L319.8 174.4L314.8 174.4L310.9 174.7L304.9 176.1L298.9 178.4L293.4 180.9L289.4 183.1L288.4 184.9L289.4 186.7L293.4 187.7L290.9 188.7L286.9 188.4L282.9 187.4L279.4 186.4ZM270.5 191.9L272.5 190.9L274.4 191.7L273.0 192.9ZM144.5 242.0L147.5 241.2L148.8 240.0M144.5 265.7L147.5 264.4L151.0 263.4L152.0 260.4L154.5 258.5L158.0 258.5L161.4 259.0L163.9 257.2L166.9 256.0L169.4 256.5L171.4 259.0L173.9 260.9L177.4 263.4L180.9 265.4L183.9 267.1L185.9 268.9L185.4 271.4L183.9 272.1L184.7 270.4L186.9 269.9L187.9 268.4L188.9 266.1L191.4 266.7L189.4 265.4L186.9 263.9L183.9 261.9L179.9 259.4L176.9 257.5L175.4 255.5L175.1 253.5L177.4 252.2L179.9 252.8L182.4 254.0L183.4 256.0L186.4 258.0L189.9 259.9L192.9 261.4L194.7 262.9L194.9 265.9L196.9 268.9L198.8 271.4L200.8 271.9L202.8 271.7L203.8 273.9L202.8 276.4L200.3 275.9L199.3 273.4L199.8 272.1L203.8 271.7L205.8 272.9L207.3 272.1L205.3 269.9L203.8 268.4L202.3 266.7L204.3 265.7L207.8 265.1L211.3 265.1L213.3 266.1L215.8 264.7L218.8 264.1L220.6 265.4L218.8 266.7L215.8 266.7L213.3 266.9L212.0 268.4L212.3 270.4L213.8 272.9L215.3 274.9L217.3 275.9L219.8 276.4L221.8 277.1L224.3 275.1L226.8 276.1L229.8 277.1L232.8 275.7L235.3 275.4L237.5 275.1L237.9 278.4L237.2 281.4L235.8 283.9L234.8 286.9L233.8 289.4L231.8 290.4L228.8 290.4L225.8 289.7L222.8 290.4L219.8 291.4L217.3 290.4L213.8 289.4L209.8 288.9L205.8 287.9L202.8 286.7L199.8 286.4L196.9 287.4L195.7 289.4L195.4 291.4L193.4 292.4L190.4 291.4L186.9 289.9L183.9 287.9L180.9 286.4L176.9 286.1L172.9 285.1L170.4 283.4L169.9 281.9L171.9 279.9L172.1 277.9L172.4 275.4L169.9 274.4L166.9 275.1L162.9 275.1L158.0 275.4L153.0 275.4L149.5 275.9L144.5 277.4M176.4 272.4L179.9 272.4L183.9 272.1L182.9 276.1L180.9 274.9L177.4 273.9ZM166.4 260.9L168.4 260.4L168.9 262.4L167.9 264.9L169.4 266.1L169.4 268.9L167.4 270.4L165.4 269.4L165.4 266.4L166.7 264.9L166.1 262.9ZM150.0 268.4L151.5 267.7L152.5 268.7L151.2 269.4ZM205.3 279.4L208.8 279.7L211.8 279.9L211.3 280.7L207.8 280.4ZM228.3 280.7L230.8 279.4L233.3 279.1L232.3 280.7L229.8 281.7ZM216.3 277.1L217.3 277.7M228.0 293.0L230.5 297.0L232.5 300.9L235.0 305.9L237.5 310.9L240.5 313.9L240.8 317.9L241.5 321.9L244.4 325.4L246.4 329.9L249.9 332.9L253.4 335.9L255.9 338.3L256.7 340.8L257.9 343.3L259.9 344.6L263.9 343.8L267.9 342.3L271.9 341.3L275.9 340.0L277.4 341.8L276.9 344.8L275.9 348.0M228.0 293.0L230.0 296.5L232.0 299.0L233.5 297.5L235.0 295.2L234.0 298.0L236.0 299.9L238.5 303.4L241.5 306.9L244.9 309.9L245.9 313.9L246.4 317.4L249.9 319.9L252.4 323.9L254.9 327.9L256.1 331.9L256.4 335.9L256.9 338.8L261.9 337.4L266.9 335.9L271.9 333.4L276.9 331.4L280.9 328.9L284.8 327.4L288.8 324.9L291.8 322.9L294.3 320.9L295.3 317.9L298.3 314.9L299.6 312.4L297.8 309.9L294.8 308.4L291.8 306.9L290.3 304.9L290.3 303.4L288.8 304.9L286.8 306.9L284.8 308.4L279.9 309.1L277.4 307.9L277.9 304.9L276.4 303.9L275.4 304.9L273.9 302.4L271.4 299.4L269.4 296.5L268.7 294.0L270.9 292.2L274.4 293.0L276.4 295.5L277.9 298.0L280.9 299.9L284.3 301.4L288.3 301.4L292.3 301.4L293.3 303.4L296.8 304.9L300.8 305.7L304.8 306.1L308.8 305.4L312.8 305.4L317.3 305.4L319.8 308.4L322.7 310.9L324.7 313.4L326.2 311.9L325.2 314.4L327.2 316.9L329.7 317.1L331.7 314.9L332.5 313.4L333.2 316.4L333.7 320.9L334.7 325.9L336.7 330.9L338.7 335.9L340.0 339.8M283.3 338.6L285.3 338.6L285.3 339.6L283.3 339.4ZM340.0 339.8L342.2 344.4L344.3 348.4L346.5 349.9L349.3 348.0L351.5 344.4L352.2 338.7L352.6 333.0L355.0 330.1L358.6 327.2L362.9 323.7L367.2 319.4L370.8 315.8L374.4 315.1L378.7 312.9L382.2 312.2L384.4 315.8L386.5 320.1L388.7 325.1L390.8 329.4L393.7 328.7L396.5 327.2L398.7 330.1M428.5 333.0L425.9 328.7L422.3 325.1L419.4 321.5L420.9 317.9L424.4 315.5L428.7 314.6L430.2 316.5L433.0 315.1L438.8 312.6L444.5 311.5L448.8 309.4L453.1 305.8L455.9 301.5L459.5 297.9L460.9 294.3L458.1 292.2L460.9 291.5L459.5 287.2L457.4 283.6L455.9 280.0L458.1 276.4L461.7 275.0L458.1 274.3L454.5 273.6L450.9 270.7M427.3 320.1L430.2 318.7L432.3 320.4L430.9 322.9L428.0 323.2ZM457.1 307.5L459.5 305.1L461.7 306.9L460.5 310.8L458.5 313.6L456.6 311.5ZM351.5 348.4L352.9 345.6L355.0 347.3L356.5 351.6L355.5 354.7L352.9 355.6L351.5 353.0ZM385.5 336.1L385.8 340.4M449.1 349.0L455.2 342.7L455.6 343.7L449.9 349.6ZM476.0 302.6L477.4 301.5M369.7 178.4L370.7 176.9L375.7 175.5L382.2 174.6L388.6 174.1L393.6 173.2L396.5 174.3L400.8 173.6L405.1 171.8L410.1 170.3L414.4 169.8L415.8 170.3L419.4 171.8L423.7 172.2L429.4 172.2L435.8 172.6L439.4 173.6L440.1 175.8L437.3 177.5L433.7 178.4L428.0 179.8L421.5 181.5L426.5 180.1L432.3 178.6L438.0 179.4L445.1 180.4L452.3 180.8L456.6 182.2L463.7 182.2L465.2 180.8L470.9 180.4L478.1 181.5L481.6 182.9L479.5 185.1L482.3 187.2L486.6 187.2L488.8 185.1L492.4 186.5L498.1 185.8L505.2 185.5L508.8 184.4L510.2 181.5L513.8 182.2L516.7 181.5L519.6 182.6L523.8 183.2L530.0 182.9M381.5 163.2L386.5 161.5L391.5 160.3L395.8 161.5L398.6 163.2L402.9 164.0L404.4 166.5L400.1 167.2L393.6 166.5L387.9 165.5L383.6 164.6ZM404.4 166.5L409.4 165.5L415.1 165.8L417.7 167.5L414.4 169.3L407.9 169.3L403.6 168.9ZM500.9 175.5L504.5 174.1L509.5 174.3L513.8 174.1L521.0 174.6L520.3 176.5L515.3 177.5L509.5 177.9L503.8 177.5ZM509.5 179.4L513.8 178.9L516.7 181.2L512.4 182.2ZM530.1 182.9L532.9 182.9L535.8 185.8L540.8 187.2L547.9 186.9L553.7 186.5L558.7 187.2L560.1 190.1L565.1 190.4L570.8 190.1L576.6 190.4L579.4 191.2L582.3 189.8L585.2 192.2L588.0 191.8L588.7 189.4L595.2 189.8L600.9 190.1L606.6 190.8L612.3 192.7L618.1 194.4L623.8 196.1L628.8 197.5L634.5 198.0L638.1 199.8L636.0 201.2L632.4 201.8L630.2 204.4L626.7 204.1L623.1 202.2L618.8 201.5L615.9 201.8L614.5 199.4L612.3 200.8L609.5 203.0L605.9 203.7L608.8 205.8L611.6 208.4L608.1 209.4L602.3 210.4L596.6 212.3L592.3 213.7L587.3 215.6L584.4 214.4L579.4 214.4L575.1 215.1L570.1 215.8L567.3 218.0L565.8 220.9L568.7 222.3L568.0 225.6L565.8 227.3L565.1 229.4L561.5 230.9L558.7 233.7L555.1 236.6L553.7 238.0M552.2 238.0L550.1 233.0L548.7 227.3L550.1 223.7L553.7 221.6L558.0 219.4L562.3 216.6L566.6 213.7L570.1 211.6L572.3 209.4L569.4 209.4L565.8 210.8L562.3 213.0L560.8 210.8L556.5 210.8L552.2 211.6L548.7 213.7L545.8 216.6L544.4 218.4L540.8 218.4L537.9 218.0L536.5 216.6L532.2 216.6L527.2 217.3L520.8 217.3L515.0 217.3L495.7 229.0L499.3 229.9L501.4 231.6L505.7 230.2L509.3 231.6L510.7 234.4L512.9 238.0M609.2 186.5L613.1 185.5L618.1 185.8L618.8 186.9L614.5 187.9L610.2 187.7ZM525.8 175.5L530.8 175.8L536.5 176.5L535.1 177.5L529.3 177.2ZM510.0 179.4L515.0 180.1L517.2 181.8L512.2 182.2ZM593.7 234.2L594.6 234.6M619.5 237.3L620.4 237.0M628.1 235.6L628.9 235.3M641.0 234.2L646.7 231.6M651.7 230.4L655.3 228.7L660.0 226.6M495.8 228.6L499.3 227.1L502.5 226.1M497.2 229.3L500.8 231.4L502.9 230.4L506.5 230.7L510.1 232.2L511.9 234.3L512.2 236.4L510.8 239.3L509.4 243.6L506.5 246.5L502.9 250.0L499.3 253.6L495.8 257.2L492.2 259.3L489.3 260.1L486.5 259.1L482.9 261.5L480.0 265.1L477.2 266.8L475.0 267.9L476.4 270.8L479.3 273.7L480.7 276.5L480.0 280.1L476.4 280.8L473.6 282.2L472.4 279.4L472.9 275.8L471.0 273.7L470.4 270.1L467.9 267.9L465.0 267.6M514.4 230.4L515.8 233.6L517.2 237.9L519.1 242.9L516.5 244.3L515.1 246.5L516.8 250.5L514.4 251.5L512.9 248.6L512.9 243.6L512.9 238.6L512.2 234.3ZM512.9 253.6L515.8 255.8L520.1 257.2L523.7 256.8L522.2 259.3L518.7 260.1L515.8 261.9L512.9 262.5L510.8 264.4L508.6 262.5L507.9 260.8L510.8 259.3L512.2 256.5ZM508.6 262.5L510.8 265.1L512.9 267.2L513.7 270.1L511.5 272.9L510.8 276.5L509.4 279.4L506.5 280.1L503.6 280.5L500.8 281.5L498.6 283.7L495.8 284.4L492.2 284.0L489.3 285.1L486.5 286.5L485.0 290.1L482.9 290.5L481.5 288.0L481.9 285.1L484.3 283.0L487.9 281.5L492.2 279.4L495.8 278.7L498.6 276.8L500.1 274.8L502.9 274.4L505.8 272.2L507.9 268.6L508.6 265.1ZM487.9 283.0L491.5 281.5L495.1 282.2L491.5 284.0ZM526.5 255.3L530.1 253.3M533.0 252.5L535.4 251.0M552.1 238.0L551.6 238.6L548.7 240.7L547.3 241.0L550.9 239.0L553.7 238.0M593.1 233.6L594.5 234.3M617.1 236.7L617.8 237.0M620.7 236.7L621.4 236.9M626.0 235.7L627.4 235.3M476.4 303.0L477.6 301.6M450.9 270.7L452.0 268.9L455.0 267.9L457.6 265.9L460.1 265.0L462.2 265.9L461.2 267.9L459.6 269.9L462.2 268.4L465.0 267.6M630.0 197.2L634.3 197.2L638.6 199.4L636.4 201.5L632.9 203.0L630.0 205.1M633.6 206.1L637.9 206.1L641.2 207.3L636.4 207.3ZM640.7 234.4L644.3 232.7L647.2 231.6M651.5 230.2L656.5 227.6L660.8 225.9L665.8 224.4L669.4 222.3L671.5 219.4L667.9 218.4L663.6 218.4L660.1 218.0L657.9 215.6L654.3 215.8L651.5 214.4L649.3 211.6L650.7 208.7L655.0 207.3L660.1 206.5L662.6 205.1L660.8 203.3L656.5 203.7L651.5 203.7L647.2 203.0L644.3 201.2L647.9 199.4L652.9 198.7L657.2 199.4L659.3 198.0L655.8 196.5L651.5 195.8L648.3 193.7L651.5 192.2L655.8 190.1L660.1 187.9L665.8 186.9L672.9 186.1L678.7 186.9L684.4 187.9L690.1 188.7L695.8 189.4L701.6 189.4L707.3 189.4L713.0 190.1L718.7 191.2L724.4 192.2L727.3 192.7L729.5 190.8L734.5 190.8L740.2 189.4L744.5 189.8L748.1 187.9L751.6 190.1L755.2 191.2L757.4 190.1L761.7 190.4L767.4 191.2L773.1 191.8L778.8 192.2L781.7 193.2L781.0 195.1L786.0 195.1L790.3 195.5L795.0 195.1M660.8 225.9L664.3 225.1L668.6 223.7L672.9 221.9L677.2 220.1L680.1 218.4L682.9 216.6L685.1 213.7L688.7 212.3L690.8 213.0L687.2 215.1L685.8 217.3L689.4 216.6L693.0 215.1L695.8 213.3L700.1 213.7L704.4 214.7L710.1 215.6L715.9 216.6L720.2 218.0L724.4 220.1L728.0 222.3L730.2 224.4L733.0 225.9L735.9 227.6L738.8 229.4L741.6 232.3L744.5 234.7L748.8 238.0M677.9 221.6L681.5 220.4L684.7 221.3L682.2 223.7L678.7 223.3ZM645.0 215.1L648.6 214.1L650.0 215.6L647.2 216.6ZM728.0 219.4L730.9 222.3L733.0 224.4M735.2 225.9L738.8 228.7M734.5 230.9L737.3 233.7L739.5 235.9L736.6 233.0ZM758.0 173.7L763.0 172.1L769.0 170.9L774.9 170.4L779.4 170.4L778.4 172.4L776.4 173.9L773.0 174.9L768.0 174.9L763.0 174.7ZM785.4 168.5L788.9 167.5L793.9 167.5L796.9 168.2L794.9 169.9L789.9 170.4L786.4 169.9ZM786.9 169.0L794.9 168.8M779.9 169.4L783.9 169.0M774.9 176.1L777.4 173.9L780.9 173.4L784.9 173.7L788.9 173.9L792.9 174.4L794.4 172.9L797.9 172.7L801.9 173.9L805.4 174.7L804.9 176.4L800.9 177.1L796.9 176.1L792.9 175.9L789.9 177.4L785.9 177.9L782.9 176.7L778.9 176.9ZM755.0 184.4L756.5 182.9L758.0 179.9L761.0 178.7L766.0 178.4L771.0 178.4L774.9 179.1L778.9 179.9L781.4 180.7L777.9 181.9L774.0 182.9L771.5 184.4L770.0 185.4L766.0 186.4L761.0 186.4L757.5 185.4ZM771.5 184.4L774.9 181.9L779.9 181.1L784.9 181.9L789.9 182.4L794.9 181.9L799.9 182.1L802.9 180.9L806.9 180.4L809.4 180.9L806.9 182.4L807.4 184.9L809.4 187.4L812.8 188.4L816.8 188.9L818.8 189.9L816.8 191.4L812.8 191.9L808.9 191.7L804.9 191.1L801.9 191.9L798.9 192.9L794.9 193.4L789.9 193.4L785.9 192.9L782.9 191.9L779.9 190.4L777.4 189.4L779.9 188.4L784.9 188.4L786.9 187.9L782.9 187.7L777.9 187.7L774.9 186.9L772.5 185.4ZM755.0 190.4L758.0 190.9L761.0 189.9L765.0 190.4L770.0 191.4L774.9 192.4L778.9 191.9L781.4 193.4L780.4 195.4L784.9 195.4L789.9 195.9L794.9 195.7L797.9 195.9L798.9 194.4L802.9 191.4L806.9 191.9L809.4 193.4L812.8 194.4L816.8 195.4L819.8 196.4L822.8 195.9L825.3 193.9L823.3 192.4L824.8 190.9L827.8 190.4L830.8 191.9L829.3 193.9L828.3 195.4L831.3 196.4L833.8 194.9L835.3 192.4L833.8 190.4L830.8 189.4L829.3 187.4L830.8 184.9L832.3 182.4L833.8 180.4L837.8 179.4L842.8 179.1L845.8 179.4L842.8 180.9L838.8 181.9L836.3 183.4L836.8 185.4L839.8 187.4L841.8 189.9L844.8 191.4L847.8 192.9L850.8 192.4L851.7 194.4L853.2 196.4L855.7 196.4L858.2 194.9L858.7 191.9L855.7 189.9L852.7 188.9L849.8 187.4L847.3 185.4L846.3 183.4L847.8 181.4L850.8 179.9L854.7 179.4L859.7 178.9L864.7 178.7L870.0 178.9M813.3 182.4L815.8 180.9L818.8 179.4L823.8 179.4L827.8 179.9L829.3 181.9L830.8 183.9L829.3 185.4L825.8 185.9L823.8 186.4L821.3 184.9L818.3 183.9L815.3 183.4ZM804.4 165.5L808.9 165.2L813.8 165.5L818.8 166.0L821.3 168.5L824.8 169.0L826.3 166.5L829.8 166.8L832.8 168.5L834.8 169.4L839.8 169.9L836.8 170.9L831.8 170.7L828.8 169.9L824.8 169.4L820.8 169.2L816.8 168.8L811.9 168.5L808.9 167.8L806.9 166.5ZM806.4 169.4L807.9 169.0L809.4 170.9L810.9 173.4L814.8 173.4L816.8 172.4L820.8 171.9L824.8 172.4L826.3 174.4L824.8 176.1L820.8 176.4L816.8 175.7L813.8 174.9L810.9 175.7L808.9 176.7L809.9 174.9L808.4 172.4L806.9 170.9ZM830.3 176.1L833.8 175.1L836.8 175.9L836.3 177.4L832.8 177.7ZM833.3 162.8L836.8 160.8L840.8 160.0L843.8 161.5L847.8 162.5L852.2 163.0L855.7 164.0L859.2 165.5L858.7 167.0L854.7 168.0L850.8 168.5L846.8 168.8L842.8 168.5L839.8 168.0L837.8 166.5L837.3 164.5L834.8 164.0ZM845.3 160.0L848.8 158.5L854.7 157.5L860.7 157.0L866.7 156.5L870.0 156.0M845.3 160.0L848.8 161.0L852.7 162.5L856.7 163.0L860.7 162.5L864.7 162.0L870.0 161.8M830.8 169.4L834.8 169.9L840.8 170.4M854.7 166.5L857.7 167.5L855.7 169.0L853.2 169.9L851.7 171.4L854.7 170.4M834.8 173.1L839.8 172.9L841.8 174.4L842.3 176.9L845.8 177.9L850.8 178.4L855.7 178.7L860.7 178.9M870.0 173.4L862.7 173.7L856.7 173.4L851.7 173.1L846.8 173.9L850.8 174.7L855.7 174.9L860.7 174.7L865.7 174.9L870.0 175.4M855.7 181.9L858.7 180.4L859.7 181.9L858.2 185.4L856.2 183.9ZM855.2 200.9L855.7 198.9L857.7 198.4L862.7 197.9L867.7 196.9L870.0 196.4M870.0 156.0L874.9 156.0L880.9 155.5L887.9 155.8L894.9 155.5L901.9 156.0L908.9 156.2L914.8 156.5L918.8 157.5L921.3 158.5L926.8 158.2L932.8 158.0L937.8 157.5L942.8 158.2L948.8 157.8L954.7 157.0L959.7 156.0L964.7 155.2L970.0 155.2M918.8 157.5L916.8 159.4L912.8 160.4L908.9 161.4L905.9 162.9L908.9 162.4L912.4 163.4L911.9 164.9L907.9 165.9L902.9 166.4L897.9 166.9L893.4 167.4L891.4 168.7L894.4 169.9L898.9 169.9L902.4 170.4L898.9 171.4L895.9 171.7L899.9 172.9L902.9 174.1L906.9 174.4L911.9 173.9L916.8 173.4L920.8 173.4L925.8 174.4L929.8 175.9L932.8 177.9L935.3 180.4L936.6 182.9L937.0 185.4L939.8 185.9L942.8 185.4L945.8 186.4L947.8 188.4L944.8 187.9L941.8 187.4L939.3 188.4L938.3 189.9L940.8 191.4L944.8 191.4L948.3 190.9L948.8 192.9L944.8 193.9L942.3 194.9L940.8 197.4L941.8 199.8L944.3 202.3L946.3 204.8L948.8 208.0M870.0 173.4L872.0 173.4L875.9 172.4L874.9 170.9L877.9 169.4L881.9 168.9L884.9 167.4L886.9 165.4L889.9 164.4L894.9 163.9L898.9 163.1L902.9 162.1L905.9 161.4M870.0 161.4L873.0 161.1L878.4 161.1M870.0 175.1L873.0 175.4L872.0 177.4L870.0 177.7M869.0 180.9L873.0 179.9L877.9 179.9L881.4 180.9L880.9 182.4L876.9 182.9L873.0 183.4L870.0 183.9ZM881.4 182.4L884.9 183.4L887.9 183.9L891.9 185.4L895.9 186.4L899.9 187.4L903.9 188.4L904.9 190.9L906.9 191.9L903.9 192.9L904.9 194.4L908.9 194.9L912.8 195.9L916.8 196.9L920.3 197.8L920.8 199.3L918.8 200.8L915.8 202.3L911.9 202.3L908.9 200.8L906.4 199.8L904.9 200.8L906.9 202.8L909.9 204.3L912.4 205.8L913.8 208.0M870.0 190.2L873.0 189.9L876.9 189.4L879.9 190.4L883.9 191.9L887.9 192.9L891.4 194.4L892.9 196.4L889.9 197.8L886.9 199.3L888.4 200.8L885.9 201.6L882.9 201.3L878.9 201.8L876.4 203.3L879.9 204.3L884.9 204.3L889.9 204.8L893.9 206.3L896.9 208.0M880.4 195.4L882.9 193.9L885.9 194.7L884.9 196.9L881.9 197.7ZM901.9 205.8L905.9 206.3L908.9 207.8M870.0 205.8L871.0 205.8L869.0 206.8M855.1 200.0L852.2 202.9L848.6 205.0L844.3 207.2L840.0 209.3L836.5 211.4L834.3 214.3L834.3 217.9L837.9 220.0L841.5 222.9L847.2 224.3L852.9 225.8L858.6 227.2L863.6 227.9L867.2 228.6L867.9 232.2L870.1 235.8L872.9 238.6L875.8 237.5L875.1 233.6L873.7 230.1L876.5 227.9L880.1 227.2L881.5 224.3L880.1 221.5L877.2 218.6L878.7 215.0L878.0 212.2L877.2 209.7L883.0 209.3L890.1 209.7L894.4 211.2L898.7 213.6L900.1 217.2L904.4 220.0L908.0 218.6L911.6 215.0L913.7 215.7L917.3 220.0L920.9 225.0L924.5 227.2L928.8 229.3L933.1 231.5L935.2 233.6L935.2 237.2L930.2 237.9L924.5 240.1L918.7 240.8L911.6 240.8L905.9 242.2L901.6 245.1L898.0 247.9L895.8 249.4L900.1 246.5L904.4 244.1L910.2 242.9L917.3 242.6L920.2 242.9L923.0 244.4L918.7 245.8L913.0 245.5L909.4 246.5L911.6 248.7L913.7 250.8L918.7 251.2L923.0 249.8L924.5 251.5L921.6 253.7L917.3 255.1L913.0 256.5L909.4 258.0L908.7 256.5L913.0 253.7L908.7 254.4L903.7 255.8L899.4 258.0L897.3 260.1L898.4 263.0L894.4 264.1L890.1 265.1L887.3 266.5L885.8 268.7L883.0 270.1L882.2 273.0L883.7 275.8L883.0 278.7L881.5 280.1L878.0 282.3L874.4 285.1L870.8 288.0L868.7 291.6L869.4 295.2L871.5 298.0M935.2 237.2L933.1 240.8L930.2 244.4L926.6 247.2L931.6 247.9L935.9 249.4L938.8 248.4L940.9 250.4L943.4 248.7L942.8 245.5L939.5 243.6L936.6 241.8L934.5 239.4ZM855.1 200.0L857.2 203.6L855.8 206.4L861.5 207.2L867.2 206.4L870.8 205.7L867.2 204.3L862.9 202.9L859.4 201.1M888.7 200.7L883.0 201.1L876.5 202.9L881.5 204.3L888.7 205.0L895.8 207.2L902.3 209.3L907.3 210.3L908.7 208.6L904.4 206.4L901.6 205.7L908.7 205.7L913.0 204.3L911.6 201.4L907.3 200.0M911.6 201.4L917.3 200.7L920.2 200.0M872.9 209.3L874.1 208.9L874.7 210.0L873.5 210.6ZM863.6 209.3L866.5 208.3M872.9 225.8L875.1 224.6M867.9 233.6L870.1 234.6M735.0 227.1L738.6 230.0L742.9 233.6L747.2 237.9L749.3 239.3L753.6 240.0L758.6 241.9L762.2 244.3L762.5 247.2L760.0 246.5L756.5 244.3L752.2 242.2L747.9 240.5L747.2 238.6M748.7 238.0L752.9 241.0L756.5 245.0L757.9 248.6L759.3 251.5L757.9 255.8L756.8 260.1L757.6 265.1L759.3 269.4L762.2 272.9L763.6 276.5L767.2 280.1L770.8 282.2L774.4 284.0L776.5 287.2L778.6 290.8L780.8 294.4L782.9 296.6L781.5 299.4L784.4 300.8L787.2 303.7L789.4 307.3L792.2 309.4L795.1 311.6L794.4 309.4L792.2 306.6L790.8 303.0L788.7 299.4L787.2 295.8L785.1 293.0L782.9 291.1L782.9 289.1L785.8 289.4L787.9 293.0L790.1 295.8L793.0 298.7L795.8 301.6L798.0 305.1L801.5 308.0L804.4 311.6L807.3 315.2L807.3 318.7L810.8 323.0M833.7 323.0L830.2 319.4L827.3 315.2L826.3 310.1L826.6 305.1L827.3 300.1L830.2 296.6L833.7 294.4L838.0 293.7L843.0 294.4L848.1 295.1L846.6 293.0L850.9 292.0L856.6 291.5L860.9 293.0L864.5 295.1L865.9 298.7L867.4 303.0L869.5 305.1L871.7 304.4L872.4 301.6L870.2 298.0M876.0 302.3L879.5 303.0M877.4 307.3L878.1 308.7M881.0 305.1L882.4 306.3M810.9 323.0L812.9 323.6L818.6 326.5L824.3 329.0L830.1 330.8L835.8 329.6L840.1 332.9L844.4 335.1L849.4 336.5L852.9 337.2L855.1 340.1L857.2 342.9L860.1 345.8L863.7 347.9L867.3 349.4L870.8 350.1L871.6 352.2L873.7 350.1L875.8 347.9L878.0 349.4L879.4 353.7L879.9 357.9L878.7 362.2L875.8 365.8L872.3 370.1L870.4 374.4L870.8 378.0L873.0 379.4L870.8 381.6L869.4 385.1L870.8 388.0L873.7 392.3L876.6 396.6L878.7 400.2L880.9 403.0M828.6 318.6L832.2 322.2L835.8 323.9L840.1 323.3L842.9 322.5L845.1 319.3L845.8 316.4L849.4 315.7L854.7 315.3L854.1 318.6L852.2 323.6L850.8 327.2L849.4 329.6L853.7 330.5L858.7 329.6L862.2 330.8L864.1 333.6L863.7 337.9L863.0 341.5L865.1 344.4L868.0 346.5L870.8 347.9L873.7 346.8L876.6 346.5L879.4 347.9L881.6 350.1L883.7 346.5L885.9 343.6L889.4 341.9L893.0 340.8L894.4 339.3L895.2 341.5L894.4 345.1L895.2 347.2L896.2 343.6L896.6 340.8L898.7 339.3L901.6 341.9L904.5 342.9L908.8 343.6L913.1 343.9L917.3 343.4L921.6 343.6L922.4 346.5L925.2 348.6L928.8 351.5L932.4 354.4L937.4 355.1L942.4 356.5L946.0 358.7L948.8 361.5L950.3 365.8L949.5 369.4L947.4 372.3L948.1 375.1L951.0 371.5L954.6 372.3L955.3 374.4L957.4 372.3L961.7 373.7L965.0 375.1M860.1 314.3L863.0 311.4L868.7 311.0L874.4 312.9L880.1 315.3L884.4 317.2L887.6 318.6L885.1 319.3L879.4 318.6L875.1 316.4L870.1 314.3L865.1 313.6ZM887.3 323.6L891.6 321.5L890.9 319.3L895.2 319.0L900.2 320.7L902.7 322.9L898.7 323.3L895.2 324.7L890.9 323.9ZM877.3 323.3L882.3 323.3L881.6 324.7L878.0 324.5ZM906.2 323.3L909.9 323.3L909.5 324.5L906.6 324.3ZM919.9 328.8L920.8 329.3M887.3 312.2L888.2 312.7M892.7 314.2L893.9 314.4M889.6 315.9L890.7 316.4M869.8 305.4L870.7 306.0M878.0 307.1L878.7 309.0M881.3 305.4L882.1 306.1M842.9 371.5L844.4 373.0M880.9 403.1L882.9 407.9L887.9 411.5L892.9 414.3L896.9 416.9L898.9 420.8L898.3 427.8L897.5 435.8L895.9 443.8L894.9 451.8L893.5 458.7L890.9 463.7L889.5 469.7L889.9 475.7L891.5 479.7L889.9 484.7L887.9 488.7L885.5 492.7L883.9 496.0M887.9 478.7L891.9 478.7L891.5 481.7L889.9 487.7M964.9 375.6L965.7 379.0L968.7 378.0L974.7 378.4L979.7 379.9L984.7 382.9L988.7 384.9L990.7 389.9L989.7 394.9L986.7 398.9L982.7 402.9L979.7 406.9L979.7 413.9L977.7 419.8L974.7 425.8L970.7 429.8L964.7 430.8L959.7 433.4L955.8 436.8L954.2 439.8L953.8 444.8L949.8 450.8L945.8 455.8L941.8 459.3L937.8 461.7L932.8 461.3L928.8 459.3L930.8 462.7L933.4 465.7L930.8 469.3L925.8 471.3L919.8 472.1L918.8 475.7L914.9 477.7L912.9 480.7L914.9 482.1L911.9 484.7L907.9 487.7L905.5 490.7L907.9 493.7L908.9 496.0M883.9 496.0L884.3 498.0L885.5 502.9L887.9 506.9L891.9 510.3L896.9 512.9L902.9 514.3L908.9 513.5L911.9 512.3L906.9 510.9L902.9 508.9L900.9 504.9L902.9 499.9L906.9 497.0L908.9 496.0M887.9 506.9L892.9 508.9L898.9 509.5L901.9 507.9M921.8 504.9L925.8 503.5L930.2 504.9L926.8 506.3ZM982.1 510.3L987.7 512.3M960.3 527.3L963.3 528.3M922.2 532.9L929.8 531.5M914.9 538.8L919.8 537.5L925.8 535.9L930.8 534.9L936.8 534.9L929.8 536.9L924.8 538.8L922.2 542.8L924.8 547.8L922.2 551.8L923.8 556.8L922.8 560.8L919.4 562.2L919.8 564.8L927.8 566.2L935.8 567.8L943.8 569.4L951.8 571.4L959.7 573.0L967.7 573.4L973.7 572.8L979.7 573.0L987.7 573.4L995.6 571.8L1003.6 570.2L1011.6 568.8L1017.6 566.2L1022.6 564.8L1028.6 563.8L1025.6 566.2L1019.6 566.2L1017.6 566.2L1022.6 564.8L1029.6 561.8L1035.5 559.4L1043.5 557.8L1049.5 555.8L1056.5 553.8L1063.5 553.4L1071.5 552.8L1079.4 551.8M144.4 552.3L152.0 552.3L159.9 552.7L169.9 552.3L176.9 552.3L181.9 550.3L187.9 551.5L195.9 552.3L203.8 552.9L207.8 553.5L215.8 552.3L223.8 549.9L228.8 549.9L232.2 547.9L235.8 549.9L239.7 551.5L244.7 551.9L248.7 548.9L255.7 547.5L263.7 546.3L271.7 544.9L277.6 542.3L282.6 541.3L288.6 541.5L293.6 544.3L299.6 545.5L307.6 546.3L315.5 546.3L324.5 546.3L329.5 548.9L335.5 551.1L340.5 551.5L345.5 549.9L349.5 547.5L356.4 545.9L357.4 542.9L363.4 542.9L370.0 541.9M370.0 542.3L378.0 542.9L390.9 542.9L393.5 538.9L398.9 537.9L402.9 540.9L407.9 540.9L411.9 539.9L416.9 542.3L422.9 542.9L427.8 543.9L433.8 541.5L439.8 541.5L445.8 543.5L451.8 544.3L457.8 543.9L465.8 542.3L473.7 542.7L478.7 544.3L483.7 542.3L492.1 541.9L492.7 539.5L495.3 539.5L495.7 541.9L503.7 542.9L513.6 543.9L522.6 544.9L529.6 547.5L537.6 548.3L545.5 548.3L553.5 550.3L561.5 552.3L569.5 553.5L577.5 554.3L585.4 555.5L588.4 556.9L586.4 559.8L579.5 561.4L573.5 563.8L568.5 566.2L567.5 569.4L570.5 571.8L576.5 572.2L578.5 570.8L583.4 571.4L591.4 571.0L600.0 571.2M600.0 571.2L608.0 573.2L619.9 573.8L635.9 574.4L651.9 574.2L661.8 572.8L671.8 570.8L683.8 570.8L689.8 568.8L697.7 567.4L703.7 565.8L713.7 565.8L723.7 564.4L735.6 563.4L747.6 563.0L750.0 560.4L754.6 560.8L757.6 562.2L762.6 561.0L766.6 562.8L773.5 562.2L783.5 562.2L791.5 563.4L799.5 564.8L801.5 563.4L807.5 564.8L814.4 565.4L815.4 561.8L811.8 559.8L813.4 557.8L821.4 557.5L830.0 557.5M829.9 557.4L831.9 558.4L837.9 558.9L843.9 558.7L849.9 559.4L855.9 559.9L860.8 560.7L864.8 562.4L868.8 562.4L871.8 560.4L874.8 559.9L875.8 561.1L876.8 558.4L880.8 558.7L884.8 559.4L889.8 559.9L894.8 559.4L899.7 558.7L902.7 557.4L903.7 554.9L902.2 551.9L899.7 549.9L896.2 549.1L893.3 549.9L889.8 551.9L885.8 551.7L882.8 552.9L882.3 555.4L885.8 556.9L889.8 558.4L893.8 559.1M883.8 553.9L889.8 554.4L895.8 553.9M884.8 556.4L890.8 557.1L895.8 557.9M901.7 550.9L904.7 549.4L907.2 546.9L905.7 544.9L908.7 543.4L911.7 541.9L915.0 539.9M275.9 348.0L274.5 351.5L272.4 355.8L269.5 359.3L265.9 362.9L261.6 365.8L257.3 369.4L253.1 373.6L249.5 377.9L246.6 382.2L245.2 386.5L246.6 390.1L247.0 394.4L249.5 398.7L249.5 404.4L250.2 409.4L248.0 413.0L244.5 415.1L240.9 416.6L237.3 419.4L234.4 422.3L234.7 425.9L235.2 428.0M144.3 355.8L148.6 355.0L154.3 354.6L156.5 356.5L157.9 359.3L161.5 360.3L166.5 359.3L169.3 361.8L169.8 365.8L168.6 370.1L166.5 372.9L168.6 375.8L172.2 379.4L175.1 383.7L176.9 388.0L178.4 393.0L179.4 397.3L180.8 400.1L178.6 403.7L176.1 408.0L174.3 413.0L174.3 417.3L176.5 421.6L178.6 425.2L180.8 428.0M166.2 361.5L166.9 362.3M269.5 428.0L271.7 421.6L273.8 415.9L275.2 410.9L274.5 405.8L272.4 402.3L269.5 405.8L266.6 409.4L263.1 411.6L259.5 413.0L258.5 417.3L259.5 420.9L258.1 424.4L255.9 428.0M287.8 425.0L288.8 425.6M293.5 423.6L294.6 424.0M181.5 428.6L182.2 433.6L182.9 437.9L184.4 441.5L187.2 445.1L189.4 449.3L191.5 453.4L190.8 456.5L192.9 459.4L195.8 461.1L200.1 459.6L205.1 459.1L210.1 459.4L214.4 458.2L218.0 455.8L221.6 452.5L224.4 449.1L227.3 445.8L229.4 442.9L229.4 439.3L229.0 437.2L232.3 435.7L235.9 434.3L237.0 431.5L236.2 427.9M269.5 428.0L268.1 431.5L267.1 434.3L265.6 436.2L261.9 437.3L258.8 435.7L257.3 432.9L256.2 428.6M288.1 425.3L289.5 425.7M293.8 423.6L294.6 423.9M969.9 155.2L975.1 154.7L982.2 153.9L989.4 153.9L996.6 154.0L1005.1 153.9L1012.3 154.3L1018.0 155.7L1023.7 156.5L1028.0 157.2L1025.2 158.6L1020.9 160.0L1016.6 161.0L1019.4 159.3L1015.2 158.6L1009.4 158.2L1003.0 158.2M1028.0 158.6L1033.8 159.6L1040.9 159.6L1046.6 159.6L1050.2 160.5L1045.2 161.5L1039.5 162.5L1034.5 164.3L1031.6 166.5L1030.6 169.3L1033.0 171.5L1030.2 172.5L1027.3 171.9L1025.9 173.6L1030.2 175.1L1033.0 176.2L1029.5 177.6L1025.9 179.4L1023.7 181.1L1021.2 180.1L1023.0 182.9L1019.4 184.4L1016.6 185.1L1014.4 187.2L1013.0 189.4L1016.6 187.9L1019.4 190.1L1023.7 188.2L1022.3 190.8L1018.0 192.0L1012.3 193.0L1005.9 193.7L999.4 194.4L995.8 195.8L992.3 198.0L988.0 199.7L982.2 201.1L977.2 201.5L974.4 202.3L975.8 204.8L972.9 208.0L970.8 210.1L970.1 213.0L967.2 216.3L963.6 215.1L959.3 214.0L955.1 213.4L951.5 210.8L948.8 208.0M1018.0 201.1L1022.3 199.7L1025.2 200.8L1029.5 199.7L1035.2 199.1L1040.9 199.4L1045.2 201.1L1044.5 203.4L1039.5 204.8L1033.8 206.3L1028.0 205.8L1023.7 205.1L1020.9 203.4L1023.0 202.3L1019.4 202.3ZM1061.7 209.7L1063.8 209.1M1080.0 233.4L1078.8 229.7L1075.9 226.8L1072.3 226.1L1074.5 223.9L1070.1 223.1L1072.7 221.4L1071.5 219.5L1066.4 219.5L1062.8 220.9L1065.0 223.9L1067.2 226.1L1067.9 228.2L1071.5 229.0L1073.0 231.9L1070.1 233.4L1069.3 235.5L1071.5 237.0L1068.6 238.5L1066.4 240.7L1070.1 239.9L1074.5 239.2L1080.0 239.2M1054.7 236.3L1055.5 232.6L1057.7 229.7L1061.3 228.2L1065.0 228.2L1066.4 230.4L1065.7 233.4L1064.2 235.5L1060.6 237.0L1056.9 237.7ZM1080.0 242.8L1077.4 242.4L1075.9 244.3L1071.5 243.9L1068.6 245.0L1071.5 246.8L1074.5 248.0L1075.9 250.1L1077.4 253.1L1078.1 256.7L1077.4 258.5L1073.0 258.2L1067.2 257.9L1061.3 257.4L1058.4 258.9L1057.2 262.6L1057.7 266.2L1056.6 269.9L1057.2 273.5L1059.9 275.0L1063.5 275.0L1065.7 277.9L1068.6 276.9L1073.0 275.7L1075.9 274.2L1080.0 272.8M1080.0 278.6L1075.9 280.1L1071.5 278.6L1067.9 277.4L1065.7 278.3L1064.2 281.5L1060.6 284.5L1057.7 286.6L1055.5 290.3L1055.5 294.7L1052.6 296.9L1048.9 298.3L1046.7 299.1L1044.5 302.7L1042.3 306.4L1039.4 310.0M1037.7 297.6L1039.4 298.3M1043.8 296.4L1045.5 295.4M1039.4 309.9L1036.2 315.3L1038.2 318.2L1039.1 323.4L1037.7 328.5L1035.8 332.8L1037.2 335.8L1037.2 339.1L1041.6 343.1L1046.0 347.4L1047.4 350.8L1052.6 354.0L1056.9 357.2L1060.6 359.6L1064.2 358.7L1068.6 357.2L1073.0 356.9L1077.4 357.7L1080.0 356.9M392.2 357.2L395.7 356.4L399.3 358.6L403.6 362.2L407.9 366.5L411.5 370.0L414.3 373.6L417.2 376.5L419.3 378.6L419.3 382.2L419.3 386.5L417.2 385.1L414.3 382.9L410.8 380.1L407.2 376.5L404.3 372.2L401.5 367.9L397.9 363.6L395.0 360.7L392.9 359.3ZM418.6 375.8L420.1 376.8L419.3 378.2L418.2 377.3ZM424.4 377.9L425.1 379.1M397.6 367.6L398.6 369.0M401.5 374.3L402.2 375.8M419.3 386.5L423.6 386.8L429.4 387.9L435.1 389.6L440.8 391.1L443.7 392.2L446.5 392.9L452.3 392.9L458.0 392.5L463.7 392.2L465.1 393.4L459.4 393.9L453.7 394.4L448.0 394.4L442.2 393.7L436.5 392.2L430.8 391.1L425.1 389.6L420.8 388.6L418.6 387.6ZM467.3 391.5L470.9 390.8L474.4 391.5L472.3 392.9L468.7 393.4ZM454.4 395.4L458.0 395.8L457.3 396.8L454.8 396.5ZM465.1 396.5L468.7 394.4L472.3 393.7L470.9 395.4L467.3 397.2ZM427.2 367.9L430.8 366.5L435.1 365.0L438.7 361.5L442.2 358.6L445.8 355.7L448.7 353.3L451.5 355.3L454.4 357.2L451.5 359.3L450.8 362.9L452.3 366.5L453.0 368.6L450.1 371.5L448.7 375.1L446.5 378.6L443.7 380.8L441.5 380.1L437.9 378.6L434.4 378.6L431.5 377.2L429.4 373.6L428.6 370.8ZM455.1 370.0L458.0 367.9L462.3 367.9L466.6 367.2L469.4 366.5L468.7 368.6L465.1 370.0L461.6 370.8L458.7 372.2L462.3 372.9L464.4 373.6L461.6 375.3L459.4 377.2L461.6 380.1L463.7 382.9L463.0 385.1L460.8 383.6L458.7 380.8L457.3 378.6L456.6 381.5L457.3 384.4L455.1 385.4L454.4 382.2L453.7 378.6L454.4 374.3ZM475.9 365.7L478.0 366.5L478.7 368.6L477.3 370.8L478.0 373.6L476.6 372.9L475.9 370.0L475.2 367.9ZM472.3 379.3L474.4 379.8M476.6 379.1L480.2 378.2L483.7 379.1L483.0 380.5L479.4 380.2ZM485.2 390.8L485.9 389.6M493.0 385.8L494.5 386.5L493.5 388.2ZM483.7 371.5L487.3 372.2L490.9 371.5L493.8 372.9L495.9 375.8L499.5 375.8L502.3 374.3L507.4 375.8L512.4 377.9L517.4 380.1L520.9 382.2L524.5 385.1L528.1 386.5L532.4 385.1L536.7 383.6L539.6 382.5L541.0 380.5L537.4 378.2L541.7 380.5L542.4 382.9L540.3 385.8L536.7 387.2L532.4 387.2L528.8 386.8L526.7 389.4L528.8 392.2L531.7 394.4L535.3 397.2L533.8 398.2L530.2 396.5L526.7 394.4L523.8 391.5L520.2 390.8L517.4 392.9L514.5 394.8L510.9 394.4L507.4 392.2L502.3 392.2L504.5 389.4L503.1 386.5L499.5 384.4L495.2 382.5L491.6 380.8L488.7 379.3L487.3 377.6L490.9 377.2L493.0 375.8L490.2 376.8L487.3 375.8L485.2 373.6ZM546.7 385.8L548.9 386.5L549.6 388.6L547.4 387.9ZM440.1 443.0L439.4 438.0L439.1 433.0L440.1 428.7L443.7 426.6L448.0 424.4L452.3 423.4L456.6 422.3L460.1 420.1L463.0 416.6L464.4 414.4L467.3 413.0L470.1 410.1L473.7 408.0L477.3 407.2L480.2 410.1L482.3 408.0L483.7 404.4L485.2 401.5L483.7 400.5L488.0 400.8L492.3 402.2L496.6 403.0L500.2 403.0L499.5 405.8L497.3 408.0L498.1 410.8L501.6 412.3L505.2 414.4L508.1 416.6L510.2 417.3L511.6 413.7L512.4 409.4L513.1 405.1L513.8 401.5L514.9 399.1L516.7 402.2L518.1 406.5L520.2 409.4L522.4 413.0L523.8 417.3L526.7 420.1L529.5 423.0L532.4 426.6L535.3 429.4L538.8 432.3L541.0 435.9L542.4 439.4L543.1 443.0M457.3 323.4L459.8 322.9L462.7 323.4L462.6 325.9L461.6 328.5L460.5 330.7L460.2 332.9L461.6 334.3L463.8 334.9L465.7 335.4L466.8 336.9L465.3 336.8L463.5 335.8L461.3 335.4L459.8 336.2L460.2 338.0L459.5 339.1L458.4 337.6L457.6 335.8L458.4 334.3L456.9 332.9L456.2 330.7L456.5 328.5L457.3 325.9ZM467.1 338.4L469.3 338.5L470.8 339.8L470.4 341.6L469.3 343.1L468.2 341.6L467.8 339.8ZM461.6 340.9L463.1 341.3L464.2 342.7L465.7 343.8L467.1 344.2L466.4 345.7L464.6 345.3L463.1 344.2L462.0 342.7ZM464.2 345.7L466.4 346.4L468.2 347.1L467.1 348.2L464.9 347.5ZM470.0 346.0L472.2 347.1L473.3 349.3L473.7 351.5L473.0 353.7L471.9 355.5L470.4 356.6L468.9 355.5L467.1 354.8L466.0 353.3L465.7 351.9L464.2 351.1L462.7 351.1L461.6 353.0L461.3 351.5L462.4 350.4L464.2 349.7L466.4 348.9L468.2 348.2ZM470.4 353.0L471.5 352.2L472.2 353.7L471.1 354.8ZM439.2 433.0L439.6 439.0L441.0 444.0L443.0 448.9L445.0 453.9L443.6 457.9L446.0 460.9L451.9 461.3L457.9 458.9L464.9 457.9L469.9 455.3L475.9 453.9L481.9 452.5L487.8 452.9L492.8 454.9L495.8 458.9L497.8 461.9L500.8 459.9L502.2 456.5L503.8 460.9L501.8 463.9L499.8 463.3L505.8 464.9L508.8 467.9L513.8 469.9L517.8 470.9L520.8 469.3L523.8 471.9L527.7 470.5L533.7 468.5L535.3 463.9L537.7 458.9L540.7 453.9L542.7 448.9L543.7 443.0M520.2 476.9L524.8 476.5L529.7 476.9L530.1 480.5L527.7 483.2L523.8 483.2L521.4 480.5ZM594.0 460.9L597.6 462.9L599.6 466.9L603.5 468.9L608.5 468.5L607.5 472.5L603.5 475.9L600.6 478.5L598.6 475.9L599.6 471.9L597.2 469.9L596.6 465.9ZM592.6 476.5L597.2 477.3L596.0 480.9L592.6 483.8L588.6 486.8L584.6 489.8L580.6 492.8L577.6 490.4L578.6 487.8L583.6 484.8L587.6 481.9L590.6 478.9ZM621.1 484.0L622.1 484.8M572.6 425.0L578.6 428.0M665.2 313.6L666.6 314.4M669.6 315.0L670.8 315.6M673.2 317.0L675.2 317.6M675.2 319.0L677.6 319.5L677.2 321.5L675.2 320.9ZM536.0 377.4L542.0 381.4L539.6 386.2L532.0 387.4L530.0 386.2M530.0 384.8L536.0 385.4L539.6 382.8M547.0 385.8L549.0 386.8L548.0 388.8ZM550.9 388.2L553.5 389.4M556.9 391.4L559.9 392.8M559.9 394.8L564.9 395.4L566.3 398.1L561.9 396.7ZM562.9 393.4L564.9 394.2M530.0 393.8L534.0 395.8L536.0 398.1L532.0 397.3ZM577.9 409.3L580.3 413.7M571.5 423.7L578.3 428.7L576.9 426.7L572.3 423.3ZM605.4 416.7L607.4 414.7L609.4 415.7L608.2 418.1L606.2 418.5ZM609.8 413.7L612.2 413.1M631.3 405.7L634.7 407.3M691.6 416.5L692.6 417.1M398.3 330.0L399.3 334.1L400.3 340.2L400.5 345.3L399.8 348.4L401.9 350.9L404.4 354.5L407.0 358.1L409.5 361.2L412.1 364.2L414.1 366.3L415.1 367.0L414.1 364.2L412.6 360.6L411.0 358.1L408.0 355.5L405.9 353.0L404.9 349.9L403.4 346.3L402.6 343.3L403.4 339.7L404.4 336.6L407.0 336.3L410.0 338.7L412.6 341.7L415.6 345.3L417.7 348.4L420.2 346.9L423.8 344.3L426.9 341.2L428.7 338.2L428.9 334.1L428.5 332.9M322.0 497.0L325.0 496.3L326.5 498.0L323.0 498.8ZM172.0 164.4L175.4 164.3L180.6 164.5L185.8 164.3L186.6 163.2L189.5 163.2L192.1 162.8L193.1 164.1L193.9 165.9L194.1 167.5L192.1 169.3L190.0 171.1L188.4 172.7L185.8 172.6L183.2 171.7L180.6 170.4L179.3 169.1L181.7 168.4L179.6 168.6L177.0 168.0L174.4 167.2L172.8 165.9ZM192.6 162.3L195.2 162.0L197.3 163.1L200.4 163.2L202.5 162.3L205.6 162.3L207.7 163.2L210.8 163.2L213.9 163.3L214.4 164.3L211.8 165.1L208.7 165.4L205.6 165.9L202.5 165.4L199.3 165.4L196.2 165.7L194.1 165.9L193.1 164.1ZM196.2 166.7L199.3 167.2L202.5 168.3L206.1 169.3L208.7 169.2L206.6 170.4L203.5 170.9L200.4 170.6L198.3 170.4L200.4 169.3L198.3 168.3Z" fill="none" stroke="#5c5c5c" stroke-width="0.85" stroke-linejoin="round" stroke-linecap="round"/>
<g stroke="#5a5a5a" stroke-width="2" fill="none" stroke-linecap="butt">
<rect x="144.4" y="135.1" width="935.8" height="467.9"/>
<path d="M170.4 603.0v-4.9M170.4 135.1v4.9M196.4 603.0v-4.9M196.4 135.1v4.9M222.4 603.0v-4.9M222.4 135.1v4.9M248.4 603.0v-4.9M248.4 135.1v4.9M274.4 603.0v-9.4M274.4 135.1v9.4M300.4 603.0v-4.9M300.4 135.1v4.9M326.4 603.0v-4.9M326.4 135.1v4.9M352.4 603.0v-4.9M352.4 135.1v4.9M378.4 603.0v-4.9M378.4 135.1v4.9M404.3 603.0v-9.4M404.3 135.1v9.4M430.3 603.0v-4.9M430.3 135.1v4.9M456.3 603.0v-4.9M456.3 135.1v4.9M482.3 603.0v-4.9M482.3 135.1v4.9M508.3 603.0v-4.9M508.3 135.1v4.9M534.3 603.0v-9.4M534.3 135.1v9.4M560.3 603.0v-4.9M560.3 135.1v4.9M586.3 603.0v-4.9M586.3 135.1v4.9M612.3 603.0v-4.9M612.3 135.1v4.9M638.3 603.0v-4.9M638.3 135.1v4.9M664.3 603.0v-9.4M664.3 135.1v9.4M690.3 603.0v-4.9M690.3 135.1v4.9M716.3 603.0v-4.9M716.3 135.1v4.9M742.3 603.0v-4.9M742.3 135.1v4.9M768.3 603.0v-4.9M768.3 135.1v4.9M794.3 603.0v-9.4M794.3 135.1v9.4M820.3 603.0v-4.9M820.3 135.1v4.9M846.2 603.0v-4.9M846.2 135.1v4.9M872.2 603.0v-4.9M872.2 135.1v4.9M898.2 603.0v-4.9M898.2 135.1v4.9M924.2 603.0v-9.4M924.2 135.1v9.4M950.2 603.0v-4.9M950.2 135.1v4.9M976.2 603.0v-4.9M976.2 135.1v4.9M1002.2 603.0v-4.9M1002.2 135.1v4.9M1028.2 603.0v-4.9M1028.2 135.1v4.9M1054.2 603.0v-9.4M1054.2 135.1v9.4M144.4 590.0h9.6M1080.2 590.0h-9.6M144.4 577.0h9.6M1080.2 577.0h-9.6M144.4 564.0h18.9M1080.2 564.0h-18.9M144.4 551.0h9.6M1080.2 551.0h-9.6M144.4 538.0h9.6M1080.2 538.0h-9.6M144.4 525.0h9.6M1080.2 525.0h-9.6M144.4 512.0h9.6M1080.2 512.0h-9.6M144.4 499.0h18.9M1080.2 499.0h-18.9M144.4 486.0h9.6M1080.2 486.0h-9.6M144.4 473.0h9.6M1080.2 473.0h-9.6M144.4 460.0h9.6M1080.2 460.0h-9.6M144.4 447.0h9.6M1080.2 447.0h-9.6M144.4 434.0h18.9M1080.2 434.0h-18.9M144.4 421.0h9.6M1080.2 421.0h-9.6M144.4 408.0h9.6M1080.2 408.0h-9.6M144.4 395.0h9.6M1080.2 395.0h-9.6M144.4 382.0h9.6M1080.2 382.0h-9.6M144.4 369.0h18.9M1080.2 369.0h-18.9M144.4 356.0h9.6M1080.2 356.0h-9.6M144.4 343.0h9.6M1080.2 343.0h-9.6M144.4 330.0h9.6M1080.2 330.0h-9.6M144.4 317.0h9.6M1080.2 317.0h-9.6M144.4 304.0h18.9M1080.2 304.0h-18.9M144.4 291.1h9.6M1080.2 291.1h-9.6M144.4 278.1h9.6M1080.2 278.1h-9.6M144.4 265.1h9.6M1080.2 265.1h-9.6M144.4 252.1h9.6M1080.2 252.1h-9.6M144.4 239.1h18.9M1080.2 239.1h-18.9M144.4 226.1h9.6M1080.2 226.1h-9.6M144.4 213.1h9.6M1080.2 213.1h-9.6M144.4 200.1h9.6M1080.2 200.1h-9.6M144.4 187.1h9.6M1080.2 187.1h-9.6M144.4 174.1h18.9M1080.2 174.1h-18.9M144.4 161.1h9.6M1080.2 161.1h-9.6M144.4 148.1h9.6M1080.2 148.1h-9.6"/>
</g>
<text transform="translate(144.4 636.8) scale(1 1.0)" text-anchor="middle">0</text>
<text transform="translate(274.4 636.8) scale(1 1.0)" text-anchor="middle">50</text>
<text transform="translate(404.3 636.8) scale(1 1.0)" text-anchor="middle">100</text>
<text transform="translate(534.3 636.8) scale(1 1.0)" text-anchor="middle">150</text>
<text transform="translate(664.3 636.8) scale(1 1.0)" text-anchor="middle">200</text>
<text transform="translate(794.3 636.8) scale(1 1.0)" text-anchor="middle">250</text>
<text transform="translate(924.2 636.8) scale(1 1.0)" text-anchor="middle">300</text>
<text transform="translate(1054.2 636.8) scale(1 1.0)" text-anchor="middle">350</text>
<text transform="translate(128.5 570.5) scale(1 1.0)" text-anchor="end">-75</text>
<text transform="translate(129.7 505.5) scale(1 1.0)" text-anchor="end">-50</text>
<text transform="translate(128.5 440.5) scale(1 1.0)" text-anchor="end">-25</text>
<text transform="translate(129.7 375.5) scale(1 1.0)" text-anchor="end">0</text>
<text transform="translate(128.5 310.5) scale(1 1.0)" text-anchor="end">25</text>
<text transform="translate(129.7 245.6) scale(1 1.0)" text-anchor="end">50</text>
<text transform="translate(128.5 180.6) scale(1 1.0)" text-anchor="end">75</text>
<text transform="translate(0.5 335.6) scale(1 1.0)">Latitude</text>
<text transform="translate(612.3 677.8) scale(1 1.0)" text-anchor="middle">Longitude</text>
<text transform="translate(383.2 120.3) scale(1 1.0)" font-size="30.18px" style="white-space:pre">PBf20130620  mjd: 56463<tspan dx="1.4">  UT:</tspan><tspan dx="1.4">  18.00</tspan></text>
<text transform="translate(901.5 21.0) scale(1 1.0)">S4</text>
<rect x="683.9" y="34.4" width="467.8" height="13.7" fill="url(#cb)" stroke="#000" stroke-width="1"/>
<path d="M777.5 34.4v3M777.5 48.1v-3M871.0 34.4v3M871.0 48.1v-3M964.6 34.4v3M964.6 48.1v-3M1058.1 34.4v3M1058.1 48.1v-3" stroke="#000" stroke-width="1" fill="none"/>
<text transform="translate(683.9 82.5) scale(1 1.0)" text-anchor="middle">0</text>
<text transform="translate(777.5 82.5) scale(1 1.0)" text-anchor="middle">0.2</text>
<text transform="translate(871.0 82.5) scale(1 1.0)" text-anchor="middle">0.4</text>
<text transform="translate(964.6 82.5) scale(1 1.0)" text-anchor="middle">0.6</text>
<text transform="translate(1058.1 82.5) scale(1 1.0)" text-anchor="middle">0.8</text>
</svg></body></html>
